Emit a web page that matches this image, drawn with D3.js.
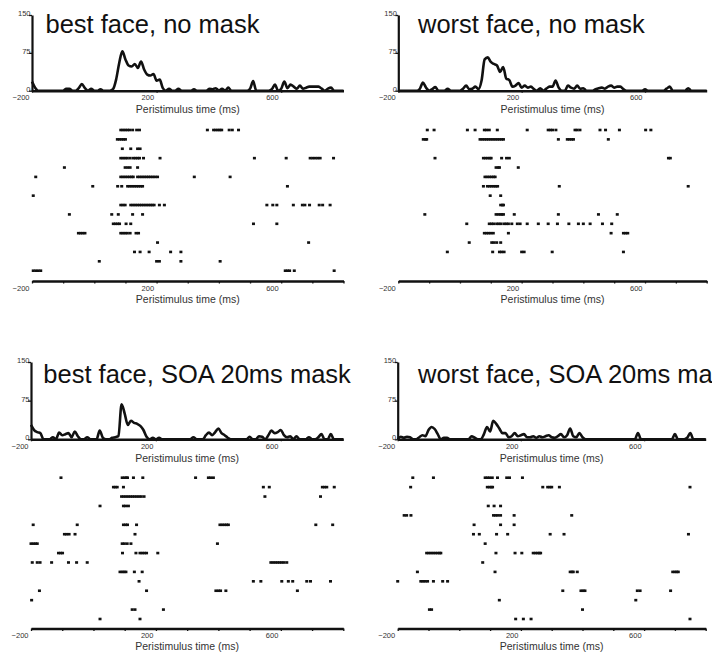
<!DOCTYPE html>
<html>
<head>
<meta charset="utf-8">
<script src="https://cdn.jsdelivr.net/npm/d3@7"></script>
<style>
  html, body { margin: 0; padding: 0; background: #fff; }
  svg { display: block; }
  text { font-family: "Liberation Sans", Arial, Helvetica, sans-serif; }
</style>
</head>
<body>
<svg id="fig" width="712" height="657"></svg>
<script>
// ---- data -----------------------------------------------------------------

const conditionTitles = [
  "best face, no mask",
  "worst face, no mask",
  "best face, SOA 20ms mask",
  "worst face, SOA 20ms mask"
];

const timeDomain = [-200, 800];
const timeTicks = [-200, -100, 0, 100, 200, 300, 400, 500, 600, 700, 800];
const timeTickLabels = [-200, 200, 600];
const rateTicks = [0, 75, 150];
const axisTitle = "Peristimulus time (ms)";

// PSTH: firing rate (spikes/s) in 10 ms bins starting at -200 ms
const psthBinStart = -200;
const psthBinWidth = 10;

const psthBestNoMask = [
  18, 6, 0, 0, 0, 0, 0, 0, 0, 0,
  0, 4, 4, 0, 0, 5, 13, 5, 0, 4,
  0, 0, 3, 0, 0, 0, 3, 22, 55, 78,
  62, 50, 48, 53, 45, 58, 42, 32, 30, 33,
  20, 22, 5, 0, 4, 0, 0, 4, 0, 0,
  0, 0, 3, 0, 0, 0, 0, 4, 3, 5,
  0, 4, 0, 6, 0, 0, 0, 0, 0, 0,
  4, 19, 0, 0, 0, 0, 0, 3, 12, 0,
  4, 18, 5, 12, 8, 4, 10, 4, 6, 8,
  8, 8, 8, 4, 0, 4, 6, 0, 0, 0,
  0
];

const psthWorstNoMask = [
  0, 0, 0, 0, 0, 0, 0, 4, 16, 6,
  0, 3, 7, 0, 0, 0, 4, 0, 0, 0,
  0, 4, 10, 3, 4, 8, 3, 20, 62, 66,
  57, 53, 50, 37, 47, 24, 21, 8, 10, 15,
  6, 10, 6, 8, 3, 0, 5, 0, 4, 8,
  8, 20, 6, 0, 0, 10, 6, 4, 10, 4,
  5, 0, 0, 0, 3, 5, 6, 4, 8, 10,
  6, 8, 8, 3, 0, 0, 0, 0, 0, 0,
  3, 0, 0, 0, 0, 0, 0, 4, 8, 0,
  0, 0, 0, 0, 5, 0, 0, 0, 0, 0,
  0
];

const psthBestMask = [
  28, 18, 14, 12, 0, 0, 0, 4, 0, 13,
  8, 10, 12, 4, 15, 6, 0, 0, 4, 0,
  0, 0, 17, 3, 0, 0, 3, 4, 6, 68,
  50, 28, 36, 32, 30, 26, 18, 5, 0, 3,
  0, 3, 0, 0, 0, 0, 0, 0, 0, 0,
  0, 0, 4, 0, 0, 0, 8, 13, 8, 14,
  21, 12, 8, 3, 0, 0, 0, 0, 0, 0,
  5, 0, 0, 6, 5, 0, 8, 17, 12, 14,
  18, 8, 4, 6, 0, 6, 0, 0, 0, 4,
  0, 0, 4, 10, 0, 0, 10, 0, 0, 0,
  0
];

const psthWorstMask = [
  0, 5, 3, 5, 4, 0, 0, 4, 8, 6,
  18, 24, 20, 10, 0, 3, 3, 0, 0, 0,
  0, 0, 0, 0, 6, 3, 0, 0, 10, 24,
  15, 36, 30, 21, 12, 12, 4, 6, 12, 6,
  8, 10, 4, 4, 6, 3, 6, 4, 6, 8,
  4, 3, 6, 10, 4, 8, 21, 6, 4, 12,
  4, 0, 0, 0, 0, 0, 0, 0, 0, 0,
  0, 0, 0, 0, 0, 0, 0, 0, 12, 0,
  0, 0, 0, 0, 0, 0, 0, 0, 0, 0,
  10, 0, 0, 0, 3, 12, 0, 0, 0, 0,
  0
];

// Rasters: spike times (ms) for each of 16 trials, first trial on top
const rasterBestNoMask = [
  [85, 92, 99, 106, 113, 123, 136, 145, 363, 383, 390, 397, 403, 409, 433, 443, 463],
  [74, 81, 88, 94, 100],
  [90, 117, 139, 147],
  [85, 92, 99, 106, 115, 125, 132, 139, 145, 158, 211, 514, 616, 693, 701, 709, 717, 725, 768],
  [-96, 99, 107, 115, 139],
  [-188, 85, 92, 99, 106, 113, 120, 125, 139, 146, 153, 160, 167, 174, 181, 188, 195, 203, 321, 436],
  [-5, 75, 88, 107, 114, 121, 128, 135, 142, 149, 155, 620],
  [-196],
  [85, 92, 99, 117, 124, 131, 138, 145, 152, 159, 166, 173, 180, 186, 192, 209, 225, 554, 573, 586, 639, 668, 676, 691, 722, 733, 757],
  [-80, 56, 77, 123, 155],
  [61, 68, 75, 81, 102, 117, 511, 586],
  [-51, -44, -37, -30, 85, 92, 99, 106, 115, 134, 142],
  [203, 688],
  [129, 147, 176, 245, 278],
  [16, 200, 209, 278, 404],
  [-196, -188, -180, -172, 613, 620, 627, 642, 770]
];

const rasterWorstNoMask = [
  [-106, -84, 24, 49, 79, 86, 95, 121, 218, 286, 293, 300, 311, 373, 380, 389, 454, 472, 517, 602, 619],
  [-119, -112, -108, 65, 72, 79, 86, 93, 100, 107, 114, 121, 128, 135, 141, 319, 348, 355, 362, 368, 481],
  [],
  [-81, 76, 83, 90, 97, 101, 135, 151, 160, 676, 682],
  [117, 124, 128, 189],
  [81, 88, 95, 102, 109, 114],
  [76, 89, 96, 103, 110, 116, 122, 322, 740],
  [98, 132],
  [132, 138, 141],
  [-114, 117, 124, 131, 136, 141, 176, 319, 449, 510],
  [22, 95, 102, 109, 119, 126, 133, 143, 150, 157, 168, 186, 195, 218, 254, 286, 316, 353, 384, 400, 422, 462, 492],
  [79, 86, 93, 100, 108, 157, 490, 530, 537, 544],
  [30, 103, 110, 119, 132],
  [-41, 106, 128, 135, 143, 200, 208, 299, 530],
  [],
  []
];

const rasterBestMask = [
  [-104, 92, 99, 105, 109, 128, 158, 327, 368, 375, 384],
  [64, 70, 76, 96, 544, 563, 733, 740, 747, 771],
  [90, 97, 104, 111, 118, 125, 132, 139, 146, 153, 162, 549, 727],
  [21, 96, 103, 112],
  [],
  [-193, -52, 96, 103, 109, 138, 405, 412, 419, 426, 432, 712, 766],
  [-93, -86, -78, -59, 133],
  [-200, -193, -186, -180, 92, 99, 108, 120, 397],
  [-112, -105, -99, 93, 136, 149, 156, 163, 170, 206],
  [-196, -180, -171, -134, -80, -54, -20, 568, 575, 582, 589, 596, 603, 610, 619],
  [85, 92, 98, 104, 131, 156],
  [146, 512, 536, 603, 624, 638, 683, 695, 759],
  [-173, 170, 392, 400, 407, 424, 653],
  [-198],
  [124, 133, 224],
  [21, 149]
];

const rasterWorstMask = [
  [-151, -84, 84, 91, 98, 107, 124, 154, 163, 205],
  [-158, 91, 98, 104, 108, 271, 287, 294, 300, 325, 749],
  [],
  [94, 113, 134],
  [-179, -171, -157, 111, 118, 125, 134, 178, 365],
  [48, 134, 178],
  [46, 65, 121, 157, 295, 340, 744],
  [84],
  [-106, -99, -92, -85, -78, -71, -64, -60, 119, 181, 203, 240, 247, 254, 260, 264],
  [76],
  [-136, 116, 360, 366, 370, 383, 693, 700, 706, 711],
  [-200, -125, -118, -111, -103, -84, -54, -38],
  [336, 395, 402, 408, 578, 587, 686],
  [130, 573],
  [-97, -90, 400],
  [183, 208, 233, 749]
];

const psthSeries = [psthBestNoMask, psthWorstNoMask, psthBestMask, psthWorstMask];
const rasterSeries = [rasterBestNoMask, rasterWorstNoMask, rasterBestMask, rasterWorstMask];

// ---- layout ---------------------------------------------------------------

const panels = [
  { left: 32.0,  right: 343.5, titleX: 45.5,  titleY: 32.5,  psthBase: 90.7,  psthTop: 15.0,  rowTop: 130.0, rowStep: 9.38, rasterAxis: 281.0 },
  { left: 398.3, right: 706.7, titleX: 418.0, titleY: 32.5,  psthBase: 90.7,  psthTop: 15.0,  rowTop: 130.0, rowStep: 9.38, rasterAxis: 281.0 },
  { left: 31.0,  right: 343.3, titleX: 43.3,  titleY: 383.3, psthBase: 439.3, psthTop: 362.0, rowTop: 477.7, rowStep: 9.42, rasterAxis: 628.5 },
  { left: 397.7, right: 705.7, titleX: 418.0, titleY: 383.3, psthBase: 439.3, psthTop: 362.0, rowTop: 477.7, rowStep: 9.42, rasterAxis: 628.5 }
];

const ink = "#111";
const labelInk = "#333";
const tickFont = 7.5;
const axisTitleFont = 10.5;
const titleFont = 25.5;

const svg = d3.select("#fig");
svg.append("rect").attr("width", 712).attr("height", 657).attr("fill", "#fff");

function styleAxis(g, width) {
  g.select(".domain").attr("stroke", ink).attr("stroke-width", width);
  g.selectAll(".tick line").attr("stroke", ink).attr("stroke-width", 1.3);
  g.selectAll(".tick text")
    .attr("fill", labelInk)
    .style("font-size", tickFont + "px")
    .style("font-family", "'Liberation Sans', Arial, sans-serif");
}

function drawPanel(p, title, psth, raster) {
  const g = svg.append("g");
  const x = d3.scaleLinear().domain(timeDomain).range([p.left, p.right]);
  const y = d3.scaleLinear().domain([0, 150]).range([p.psthBase, p.psthTop]);

  // condition title
  g.append("text")
    .attr("x", p.titleX).attr("y", p.titleY)
    .attr("fill", ink)
    .style("font-size", titleFont + "px")
    .text(title);

  // PSTH time axis
  const px = g.append("g")
    .attr("transform", `translate(0,${p.psthBase})`)
    .call(d3.axisBottom(x).tickValues(timeTickLabels).tickSize(2).tickSizeOuter(0).tickFormat(d3.format("d")));
  styleAxis(px, 2.4);
  px.selectAll(".tick text").attr("text-anchor", "end").attr("x", -3).attr("y", 9.7).attr("dy", 0);

  // PSTH rate axis
  const py = g.append("g")
    .attr("transform", `translate(${p.left},0)`)
    .call(d3.axisLeft(y).tickValues(rateTicks).tickSize(3).tickSizeOuter(0).tickFormat(d3.format("d")));
  styleAxis(py, 2.2);
  py.selectAll(".tick text").attr("x", -1.5).attr("y", 0.5).attr("dy", 0);

  g.append("text")
    .attr("x", (p.left + p.right) / 2).attr("y", p.psthBase + 22.5)
    .attr("text-anchor", "middle").attr("fill", labelInk)
    .style("font-size", axisTitleFont + "px")
    .text(axisTitle);

  // PSTH curve
  const line = d3.line()
    .x((d, i) => x(psthBinStart + i * psthBinWidth))
    .y(d => y(d))
    .curve(d3.curveMonotoneX);
  g.append("path")
    .datum(psth)
    .attr("d", line)
    .attr("fill", "none")
    .attr("stroke", ink)
    .attr("stroke-width", 2.6)
    .attr("stroke-linejoin", "round");

  // raster
  const row = d3.scaleLinear().domain([0, 1]).range([p.rowTop, p.rowTop + p.rowStep]);
  const spikes = raster.flatMap((trial, i) => trial.map(t => ({ t, i })));
  g.append("g").selectAll("rect")
    .data(spikes)
    .join("rect")
    .attr("x", d => x(d.t) - 1.5)
    .attr("y", d => row(d.i) - 1.3)
    .attr("width", 3)
    .attr("height", 2.6)
    .attr("fill", ink);

  const rx = g.append("g")
    .attr("transform", `translate(0,${p.rasterAxis})`)
    .call(d3.axisBottom(x).tickValues(timeTicks).tickSize(2.5).tickSizeOuter(0)
      .tickFormat(d => timeTickLabels.includes(d) ? d3.format("d")(d) : ""));
  styleAxis(rx, 2.4);
  rx.selectAll(".tick text").attr("text-anchor", "end").attr("x", -3).attr("y", 9.5).attr("dy", 0);

  g.append("text")
    .attr("x", (p.left + p.right) / 2).attr("y", p.rasterAxis + 21.5)
    .attr("text-anchor", "middle").attr("fill", labelInk)
    .style("font-size", axisTitleFont + "px")
    .text(axisTitle);
}

panels.forEach((p, k) => drawPanel(p, conditionTitles[k], psthSeries[k], rasterSeries[k]));
</script>
</body>
</html>
